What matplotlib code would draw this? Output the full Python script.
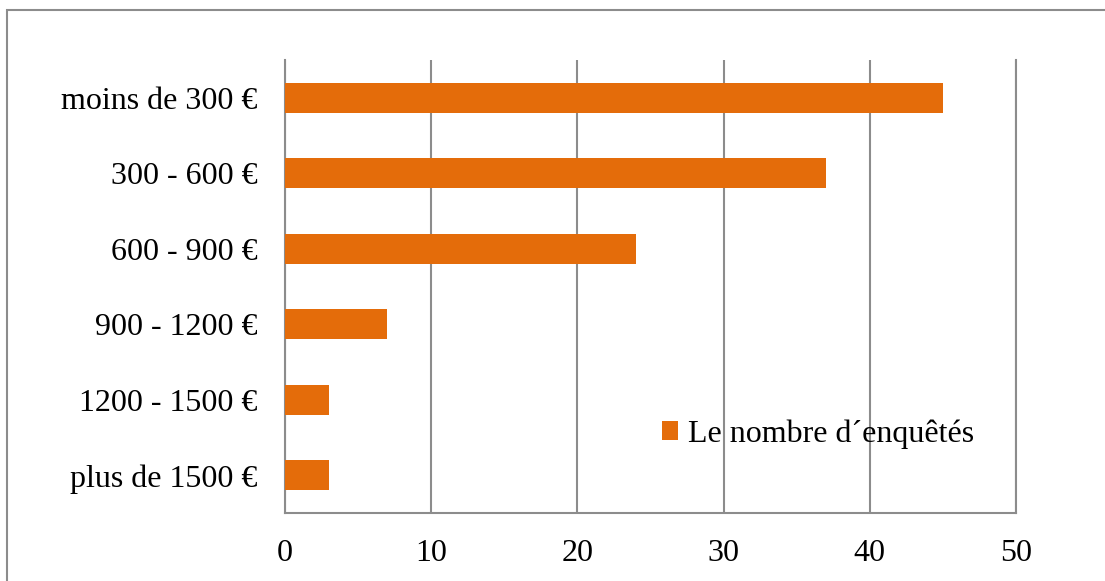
import matplotlib.pyplot as plt
from matplotlib.patches import Rectangle

# donnees ------------------------------------------------------------
categories = ["moins de 300 €", "300 - 600 €", "600 - 900 €",
              "900 - 1200 €", "1200 - 1500 €", "plus de 1500 €"]
valeurs = [45, 37, 24, 7, 3, 3]
serie = "Le nombre d\u00b4enquêtés"
xticks = [0, 10, 20, 30, 40, 50]

orange = "#E46C0A"
gris = "#8C8C8C"

plt.rcParams['font.family'] = ['Liberation Serif', 'DejaVu Serif']

fig = plt.figure(figsize=(11.05, 5.81), dpi=100)
ax = fig.add_axes([285 / 1105, 1 - 513 / 581, (1016 - 285) / 1105, (513 - 60) / 581])

ypos = list(range(len(categories)))
ax.barh(ypos, valeurs, height=0.4, color=orange, label=serie, zorder=3)
ax.set_ylim(len(categories) - 0.5, -0.5)
ax.set_xlim(0, 50)
ax.set_yticks(ypos)
ax.set_yticklabels(categories)
ax.set_xticks(xticks)
ax.tick_params(axis='both', length=0, labelsize=23)
ax.tick_params(axis='y', pad=20)
ax.tick_params(axis='x', pad=19)

ax.grid(axis='x', color=gris, linewidth=1.5, zorder=0)
ax.spines['top'].set_visible(False)
for s in ['left', 'bottom', 'right']:
    ax.spines[s].set_color(gris)
    ax.spines[s].set_linewidth(1.5)

leg = ax.legend(loc='center left', bbox_to_anchor=((662 - 285) / (1016 - 285), 1 - (434 - 60) / (513 - 60)),
                frameon=False, fontsize=23, handlelength=0.5, handleheight=0.5,
                handletextpad=0.3, borderaxespad=0, borderpad=0)

# cadre du graphique (haut et gauche seulement visibles)
fig.patches.append(Rectangle((7 / 1105, -0.1), 1.2, 1 - 10 / 581 + 0.1, transform=fig.transFigure,
                             fill=False, edgecolor=gris, linewidth=1.5))

fig.savefig("out.png", dpi=100)
